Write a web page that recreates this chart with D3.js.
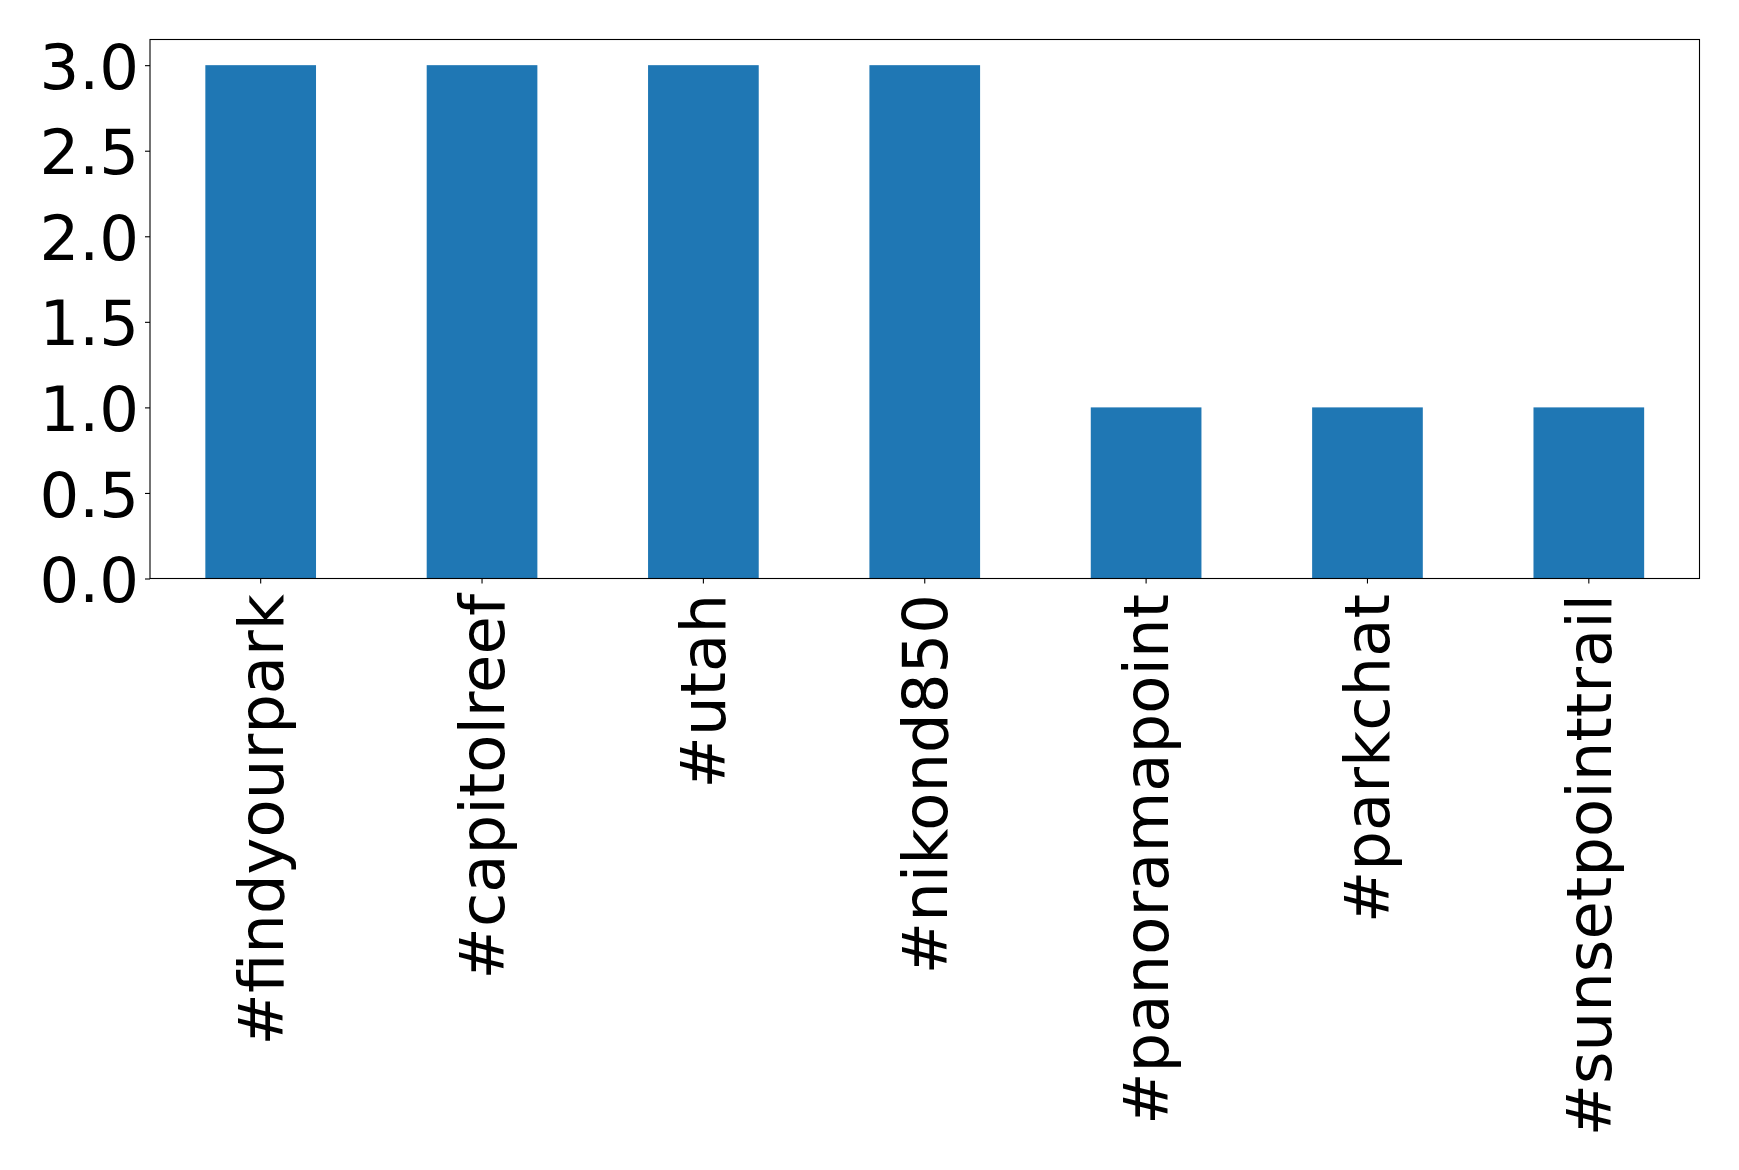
<!DOCTYPE html>
<html>
<head>
<meta charset="utf-8">
<script src="https://cdn.jsdelivr.net/npm/d3@7"></script>
<style>
  html, body { margin: 0; padding: 0; background: #fff; }
  svg { display: block; }
  text { font-family: "DejaVu Sans", sans-serif; fill: #000; }
</style>
</head>
<body>
<svg id="chart" width="1739" height="1170"></svg>
<script>
const categories = ["#findyourpark", "#capitolreef", "#utah", "#nikond850", "#panoramapoint", "#parkchat", "#sunsetpointtrail"];
const counts = [3, 3, 3, 3, 1, 1, 1];
const yTicks = [0, 0.5, 1.0, 1.5, 2.0, 2.5, 3.0];

const W = 1739, H = 1170;
const m = { left: 150, right: W - 1699.5, top: 39.5, bottom: H - 578.5 };
const svg = d3.select("#chart");
const fontSize = 62.5;

const x = d3.scaleBand()
  .domain(categories)
  .range([m.left, W - m.right])
  .paddingInner(0.5)
  .paddingOuter(0.25);

const y = d3.scaleLinear()
  .domain([0, 3.15])
  .range([H - m.bottom, m.top]);

// bars
svg.append("g")
  .selectAll("rect")
  .data(categories)
  .join("rect")
  .attr("x", d => x(d))
  .attr("width", x.bandwidth())
  .attr("y", (d, i) => y(counts[i]))
  .attr("height", (d, i) => y(0) - y(counts[i]))
  .attr("fill", "#1f77b4");

// y axis
const yAxis = svg.append("g")
  .attr("transform", `translate(${m.left},0)`)
  .call(d3.axisLeft(y).tickValues(yTicks).tickFormat(d3.format(".1f")).tickSize(5).tickPadding(6));
yAxis.select(".domain").remove();
yAxis.selectAll(".tick line").attr("stroke", "#000").attr("stroke-width", 1.1);
yAxis.selectAll(".tick text")
  .attr("font-size", fontSize)
  .attr("font-family", "DejaVu Sans")
  .attr("dy", "0.37em");

// x axis
const xAxis = svg.append("g")
  .attr("transform", `translate(0,${H - m.bottom})`)
  .call(d3.axisBottom(x).tickSize(5).tickPadding(0));
xAxis.select(".domain").remove();
xAxis.selectAll(".tick line").attr("stroke", "#000").attr("stroke-width", 1.1);
xAxis.selectAll(".tick text")
  .attr("font-size", fontSize)
  .attr("font-family", "DejaVu Sans")
  .attr("text-anchor", "end")
  .attr("transform", "translate(0,15.5) rotate(-90)")
  .attr("x", 0)
  .attr("y", 0)
  .attr("dy", "0.35em");

// frame
svg.append("rect")
  .attr("x", m.left)
  .attr("y", m.top)
  .attr("width", W - m.right - m.left)
  .attr("height", H - m.bottom - m.top)
  .attr("fill", "none")
  .attr("stroke", "#000")
  .attr("stroke-width", 1.1);
</script>
</body>
</html>
